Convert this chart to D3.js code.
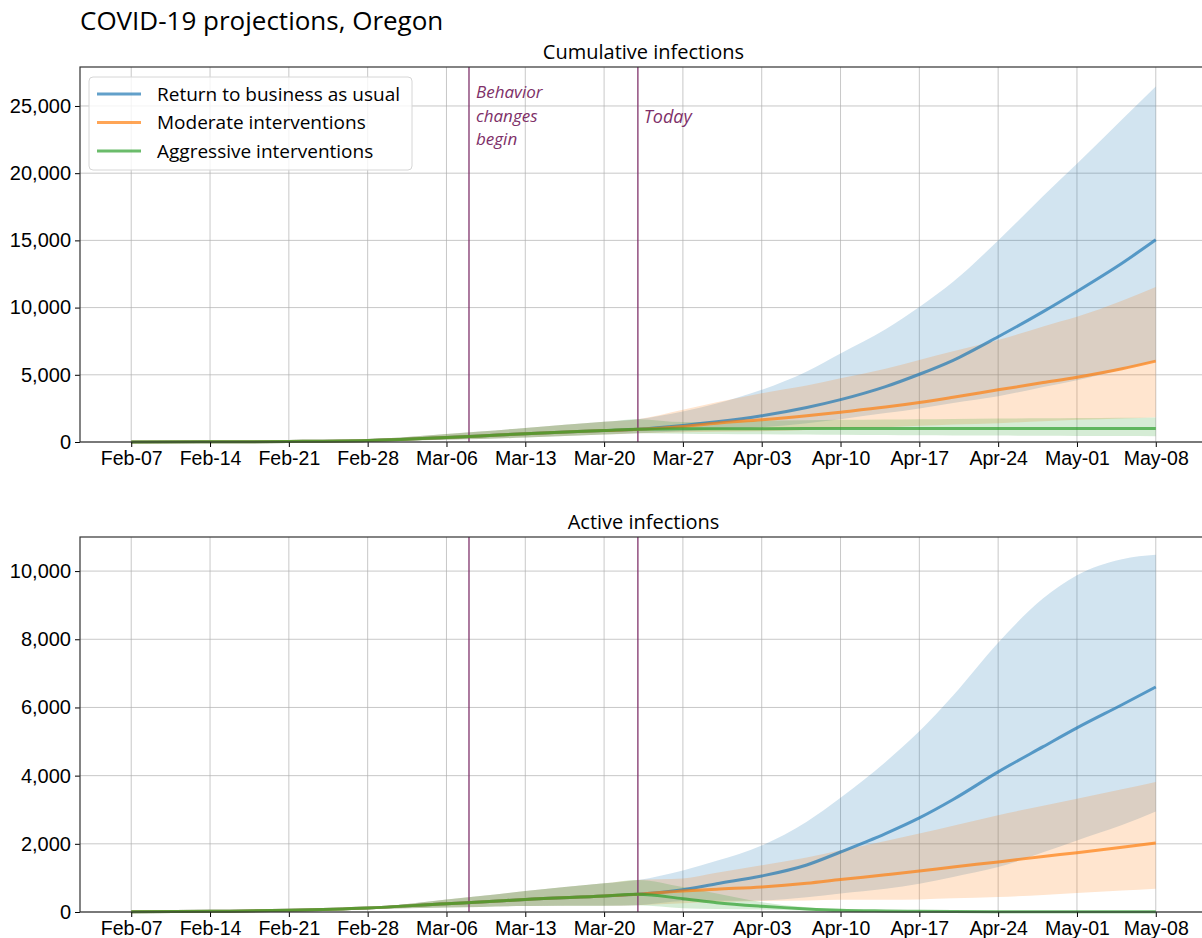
<!DOCTYPE html>
<html>
<head>
<meta charset="utf-8">
<script src="https://cdn.jsdelivr.net/npm/d3@7"></script>
<style>
  body { margin: 0; background: #fff; }
  svg { font-family: "Open Sans", Lato, sans-serif; }
</style>
</head>
<body>
<div id="chart"></div>
<script>
// Sample dates (shared by all series)
const dates = ["2020-02-07","2020-02-14","2020-02-21","2020-02-28","2020-03-06","2020-03-09","2020-03-13",
  "2020-03-20","2020-03-23","2020-03-27","2020-03-30","2020-04-03","2020-04-07","2020-04-10","2020-04-14",
  "2020-04-17","2020-04-20","2020-04-24","2020-04-28","2020-05-01","2020-05-05","2020-05-08"];
const tickDates = ["2020-02-07","2020-02-14","2020-02-21","2020-02-28","2020-03-06","2020-03-13","2020-03-20",
  "2020-03-27","2020-04-03","2020-04-10","2020-04-17","2020-04-24","2020-05-01","2020-05-08"];
const scenarios = ["Return to business as usual", "Moderate interventions", "Aggressive interventions"];
const colors = ["#1f77b4", "#ff7f0e", "#2ca02c"];
const behaviorDate = "2020-03-08";
const todayDate = "2020-03-23";

// Cumulative infections
const cumBlueMid = [5,15,40,110,330,450,620,850,950,1230,1500,1950,2565,3150,4120,5040,6080,7830,9700,11200,13300,15040];
const cumBlueHi  = [10,30,80,200,600,780,1050,1500,1700,2270,2860,3880,5250,6590,8390,10050,11920,14990,18300,20700,24000,26450];
const cumBlueLo  = [2,8,20,60,170,220,330,550,650,800,950,1100,1400,1700,2150,2500,2900,3400,4100,4600,5400,6000];
const cumOrMid   = [5,15,40,110,330,450,620,850,950,1160,1400,1650,1950,2220,2600,2940,3330,3880,4420,4820,5450,6020];
const cumOrHi    = [10,30,80,200,600,780,1050,1500,1700,2400,2950,3630,4200,4740,5450,6100,6750,7580,8600,9310,10500,11530];
const cumOrLo    = [2,8,20,60,170,220,330,550,650,720,760,800,900,1000,1100,1200,1300,1400,1550,1650,1750,1850];
const cumGrMid   = [5,15,40,110,330,450,620,850,950,980,990,995,1000,1000,1000,1000,1000,1000,1000,1000,1000,1000];
const cumGrHi    = [10,30,80,200,600,780,1050,1500,1700,1480,1530,1580,1620,1650,1680,1700,1720,1740,1760,1780,1800,1820];
const cumGrLo    = [2,8,20,60,170,220,330,550,650,620,600,580,560,540,520,500,490,480,460,450,440,430];

// Active infections
const actBlueMid = [5,20,50,117,244,290,370,470,520,655,830,1056,1380,1760,2300,2760,3300,4110,4850,5400,6080,6600];
const actBlueHi  = [8,30,75,137,370,470,615,840,940,1220,1500,1950,2650,3350,4400,5300,6350,7900,9200,9880,10350,10480];
const actBlueLo  = [2,10,30,80,130,150,175,180,200,320,330,340,430,540,680,830,1030,1320,1750,2100,2550,2950];
const actOrMid   = [5,20,50,117,244,290,370,470,520,616,670,733,840,950,1090,1200,1320,1470,1630,1740,1900,2025];
const actOrHi    = [8,30,75,137,370,470,615,840,940,980,1150,1370,1600,1810,2080,2300,2530,2840,3120,3325,3600,3815];
const actOrLo    = [2,10,30,80,130,150,175,180,200,260,290,320,340,360,360,370,400,440,500,560,630,685];
const actGrMid   = [5,20,50,117,244,290,370,470,520,390,270,166,90,50,30,20,15,10,8,6,5,4];
const actGrHi    = [8,30,75,137,370,470,615,840,940,730,540,290,140,70,40,30,25,20,15,12,10,8];
const actGrLo    = [2,10,30,80,130,150,175,180,200,110,90,70,45,30,15,10,5,3,2,1,1,1];

const width = 1202, height = 938;
const parse = d3.timeParse("%Y-%m-%d");
const dts = dates.map(parse);
const left = 80, right = 1207;
const DAY = 864e5;

const svg = d3.select("#chart").append("svg")
  .attr("width", width).attr("height", height);

svg.append("text")
  .attr("x", 80).attr("y", 30)
  .style("font-size", "26px").style("fill", "#000")
  .text("COVID-19 projections, Oregon");

// 5% margins either side of the data range, like matplotlib
const x0 = new Date(+parse("2020-02-07") - 4.55 * DAY);
const x1 = new Date(+parse("2020-05-08") + 4.55 * DAY);
const x = d3.scaleTime().domain([x0, x1]).range([left, right]);

const fmt = d3.format(",");

function panel(top, bottom, ymax, yticks, title, series, showLegend) {
  const y = d3.scaleLinear().domain([0, ymax]).range([bottom, top]);
  const g = svg.append("g");

  g.append("text")
    .attr("x", (left + right) / 2).attr("y", top - 8)
    .attr("text-anchor", "middle")
    .style("font-size", "20px")
    .text(title);

  // grid
  g.append("g").selectAll("line").data(tickDates.map(parse)).join("line")
    .attr("x1", d => x(d)).attr("x2", d => x(d))
    .attr("y1", top).attr("y2", bottom)
    .attr("stroke", "#b0b0b0").attr("stroke-opacity", 0.7).attr("stroke-width", 1);
  g.append("g").selectAll("line").data(yticks).join("line")
    .attr("x1", left).attr("x2", right)
    .attr("y1", d => y(d)).attr("y2", d => y(d))
    .attr("stroke", "#b0b0b0").attr("stroke-opacity", 0.7).attr("stroke-width", 1);

  // bands
  const area = d3.area()
    .x((d, i) => x(dts[i]))
    .y0(d => y(d[0])).y1(d => y(d[1]))
    .curve(d3.curveMonotoneX);
  series.forEach((s, k) => {
    g.append("path")
      .datum(s.lo.map((v, i) => [v, s.hi[i]]))
      .attr("d", area)
      .attr("fill", colors[k]).attr("fill-opacity", 0.2);
  });

  // event lines
  [behaviorDate, todayDate].forEach(dd => {
    g.append("line")
      .attr("x1", x(parse(dd))).attr("x2", x(parse(dd)))
      .attr("y1", top).attr("y2", bottom)
      .attr("stroke", "#7e2f68").attr("stroke-opacity", 0.85).attr("stroke-width", 1.5);
  });

  // medians
  const line = d3.line()
    .x((d, i) => x(dts[i])).y(d => y(d))
    .curve(d3.curveMonotoneX);
  series.forEach((s, k) => {
    g.append("path")
      .datum(s.mid)
      .attr("d", line)
      .attr("fill", "none")
      .attr("stroke", colors[k]).attr("stroke-opacity", 0.7)
      .attr("stroke-width", 3);
  });

  // axes
  const xAxis = g.append("g")
    .attr("transform", `translate(0,${bottom})`)
    .call(d3.axisBottom(x).tickValues(tickDates.map(parse))
      .tickFormat(d3.timeFormat("%b-%d")).tickSize(5).tickPadding(4));
  xAxis.select(".domain").remove();
  xAxis.selectAll("text").style("font-size", "19.5px").attr("fill", "#000");
  xAxis.selectAll("line").attr("stroke", "#000");

  const yAxis = g.append("g")
    .attr("transform", `translate(${left},0)`)
    .call(d3.axisLeft(y).tickValues(yticks).tickFormat(fmt).tickSize(5).tickPadding(4));
  yAxis.select(".domain").remove();
  yAxis.selectAll("text").style("font-size", "20px").attr("fill", "#000");
  yAxis.selectAll("line").attr("stroke", "#000");

  // frame
  g.append("rect")
    .attr("x", left).attr("y", top)
    .attr("width", right - left).attr("height", bottom - top)
    .attr("fill", "none").attr("stroke", "#333").attr("stroke-width", 1.2);

  if (showLegend) {
    const lg = g.append("g");
    lg.append("rect")
      .attr("x", 89).attr("y", 77).attr("width", 323).attr("height", 93)
      .attr("rx", 4)
      .attr("fill", "#fff").attr("fill-opacity", 0.8)
      .attr("stroke", "#d6d6d6");
    scenarios.forEach((name, k) => {
      const yy = 94 + k * 28.5;
      lg.append("line")
        .attr("x1", 97).attr("x2", 141).attr("y1", yy).attr("y2", yy)
        .attr("stroke", colors[k]).attr("stroke-opacity", 0.7).attr("stroke-width", 3);
      lg.append("text")
        .attr("x", 157).attr("y", yy).attr("dy", "0.35em")
        .style("font-size", "19px")
        .text(name);
    });

    // multi-line label, like matplotlib's "Behavior\nchanges\nbegin"
    const bx = x(parse(behaviorDate)) + 7;
    ["Behavior", "changes", "begin"].forEach((t, i) => {
      g.append("text")
        .attr("x", bx).attr("y", 98 + i * 23.5)
        .style("font-size", "17px").style("font-style", "italic")
        .attr("fill", "#7e2f68")
        .text(t);
    });
    g.append("text")
      .attr("x", x(parse(todayDate)) + 6).attr("y", 123)
      .style("font-size", "18px").style("font-style", "italic")
      .attr("fill", "#7e2f68")
      .text("Today");
  }
}

panel(67, 442, 27900, [0, 5000, 10000, 15000, 20000, 25000], "Cumulative infections", [
  { mid: cumBlueMid, lo: cumBlueLo, hi: cumBlueHi },
  { mid: cumOrMid, lo: cumOrLo, hi: cumOrHi },
  { mid: cumGrMid, lo: cumGrLo, hi: cumGrHi }
], true);

panel(537, 912, 11000, [0, 2000, 4000, 6000, 8000, 10000], "Active infections", [
  { mid: actBlueMid, lo: actBlueLo, hi: actBlueHi },
  { mid: actOrMid, lo: actOrLo, hi: actOrHi },
  { mid: actGrMid, lo: actGrLo, hi: actGrHi }
], false);
</script>
</body>
</html>
